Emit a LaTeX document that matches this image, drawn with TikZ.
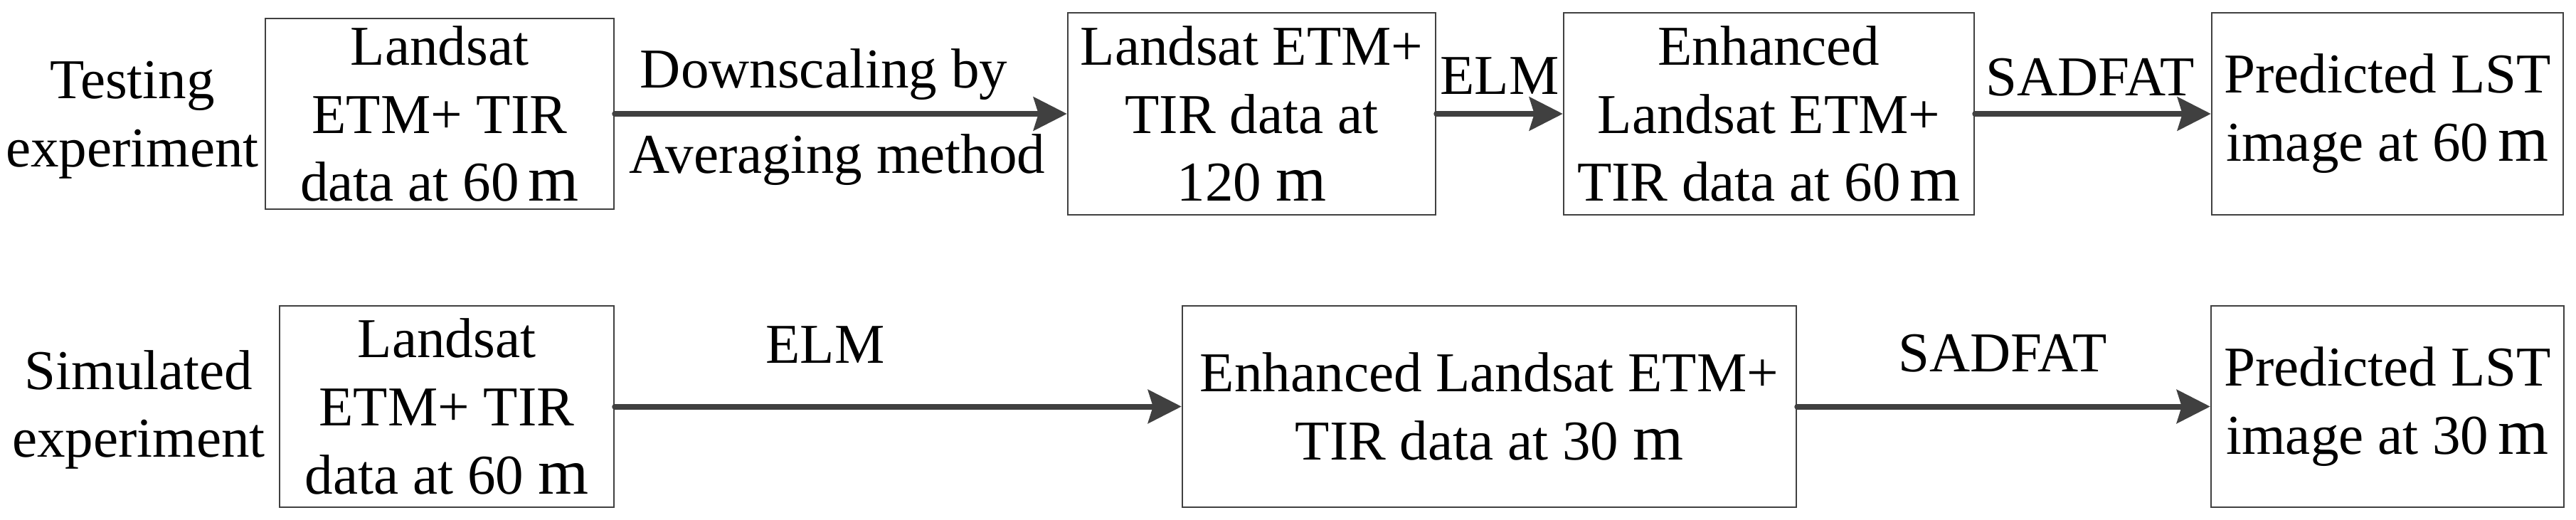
\documentclass[tikz,border=0pt]{standalone}
\usepackage{fontspec}
\setmainfont{Liberation Serif}
\usetikzlibrary{arrows.meta}
\newcommand\unitm{{\fontsize{26}{27}\selectfont m}}
\begin{document}
\begin{tikzpicture}[
  every node/.style={font=\fontsize{22.5}{27.3}\selectfont, inner sep=0pt},
  blk/.style={draw=black!75, line width=0.7pt, align=center, minimum height=2.84cm},
  lbl/.style={align=center},
  flow/.style={draw=black!75, line width=0.08cm, line cap=round,
    -{Stealth[length=0.47cm, width=0.47cm, inset=0.07cm]}}
]
\useasboundingbox (0,0) rectangle (36.21,-7.31);
\fill[white] (0,0) rectangle (36.21,-7.31);

% row 1
\node[lbl] (t0) at (1.86,-1.69) {Testing\\experiment};
\node[blk, minimum width=4.90cm, minimum height=2.68cm] (b1) at (6.18,-1.60)
  {Landsat\\ETM+ TIR\\data at 60\,\unitm};
\node[blk, minimum width=5.17cm] (b2) at (17.595,-1.60)
  {Landsat ETM+\\TIR data at\\120 \unitm};
\node[blk, minimum width=5.77cm] (b3) at (24.865,-1.60)
  {Enhanced\\Landsat ETM+\\TIR data at 60\,\unitm};
\node[blk, minimum width=4.94cm] (b4) at (33.56,-1.60)
  {Predicted LST\\image at 60\,\unitm};

\draw[flow] (b1.east) -- (b2.west);
\draw[flow] (b2.east) -- (b3.west);
\draw[flow] (b3.east) -- (b4.west);

\node[anchor=base] (d1) at (11.58,-1.24) {Downscaling by};
\node[anchor=base] (d2) at (11.77,-2.44) {Averaging method};
\node[anchor=base] (e1) at (21.08,-1.33) {ELM};
\node[anchor=base] (s1) at (29.38,-1.35) {SADFAT};

% row 2
\node[lbl] (t1) at (1.95,-5.76) {Simulated\\experiment};
\node[blk, minimum width=4.70cm, minimum height=2.83cm] (b5) at (6.28,-5.715)
  {Landsat\\ETM+ TIR\\data at 60 \unitm};
\node[blk, minimum width=8.63cm, minimum height=2.83cm] (b6) at (20.935,-5.715)
  {Enhanced Landsat ETM+\\TIR data at 30 \unitm};
\node[blk, minimum width=4.96cm, minimum height=2.83cm] (b7) at (33.56,-5.715)
  {Predicted LST\\image at 30\,\unitm};

\draw[flow] (b5.east) -- (b6.west);
\draw[flow] (b6.east) -- (b7.west);

\node[anchor=base] (e2) at (11.60,-5.10) {ELM};
\node[anchor=base] (s2) at (28.15,-5.22) {SADFAT};
\end{tikzpicture}
\end{document}
